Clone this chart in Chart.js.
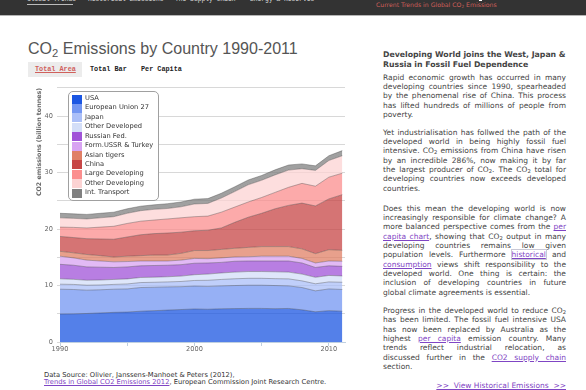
<!DOCTYPE html>
<html><head><meta charset="utf-8">
<script src="https://cdn.jsdelivr.net/npm/chart.js@4.4.1/dist/chart.umd.min.js"></script>
<style>
html,body{margin:0;padding:0;background:#fff;width:586px;height:390px;overflow:hidden;}
body{position:relative;font-family:"DejaVu Sans",sans-serif;}
.abs{position:absolute;white-space:nowrap;}
#hdr{position:absolute;left:0;top:0;width:586px;height:15px;background:#333;border-bottom:1px solid #b5b5b5;}
.nav{position:absolute;top:-4px;font:6.3px/7px "Liberation Mono",monospace;color:#ddd;white-space:nowrap;}
#navline{position:absolute;left:27px;top:4px;width:46px;height:1px;background:#bbb;}
#hdrTitle{position:absolute;color:#cf5f5a;font-family:"DejaVu Sans",sans-serif;line-height:1;white-space:nowrap;}
sub{font-size:70%;vertical-align:-0.25em;line-height:0;}
#title{position:absolute;left:28px;color:#555;font-family:"Liberation Sans",Arial,sans-serif;line-height:1;white-space:nowrap;}
#btnbg{position:absolute;left:28px;top:62px;width:54px;height:15px;background:#ececec;}
.btn{position:absolute;top:65px;font:bold 6.8px/8px "Liberation Mono",monospace;color:#222;white-space:nowrap;}
#c{position:absolute;left:0;top:80px;}
#legend{position:absolute;left:68px;top:91px;width:89px;height:106px;border:1px solid #a0a0a0;border-radius:5px;background:#fff;padding-top:2px;box-sizing:content-box;}
.li{position:relative;height:9.43px;font:6.7px/9.43px "DejaVu Sans",sans-serif;color:#333;white-space:nowrap;padding-left:16px;}
.sw{position:absolute;left:3px;top:0.5px;width:10px;height:9px;}
#src{position:absolute;left:44px;top:372px;color:#333;font-family:"DejaVu Sans",sans-serif;}
#src div{white-space:nowrap;line-height:7.1px;}
a{color:#7f45c4;text-decoration:underline;}
.side{position:absolute;left:383px;width:183px;color:#444;font:7.5px/9.33px "DejaVu Sans",sans-serif;}
.jl{white-space:nowrap;height:9.33px;}
#head{position:absolute;left:383px;top:50px;color:#444;font-weight:bold;font-family:"DejaVu Sans",sans-serif;}
#head div{white-space:nowrap;line-height:10px;}
#more{position:absolute;top:380.5px;right:20px;font:7.5px/9.33px "DejaVu Sans",sans-serif;white-space:pre;}
</style></head>
<body>
<div id="hdr"></div>
<div class="nav" style="left:27px">Global Trends</div>
<div class="nav" style="left:88px">Historical Emissions</div>
<div class="nav" style="left:175px">The Supply Chain</div>
<div class="nav" style="left:250px">Energy &amp; Reserves</div>
<div id="navline"></div>
<div class="abs" style="left:479px;top:0;width:3px;height:1px;background:#fff"></div>
<div id="hdrTitle">Current Trends in Global CO<sub>2</sub> Emissions</div>

<div id="title">CO<sub>2</sub> Emissions by Country 1990-2011</div>
<div id="btnbg"></div>
<div class="btn" style="left:35px;color:#d0605c;text-decoration:underline;">Total Area</div>
<div class="btn" style="left:90px">Total Bar</div>
<div class="btn" style="left:141px">Per Capita</div>

<canvas id="c" width="360" height="276"></canvas>
<div id="legend"></div>

<div id="src"><div id="src1">Data Source: Olivier, Janssens-Manhoet &amp; Peters (2012),</div><div id="src2"><a>Trends in Global CO2 Emissions 2012</a>, European Commission Joint Research Centre.</div></div>

<div id="head"><div id="h1">Developing World joins the West, Japan &amp;</div><div id="h2">Russia in Fossil Fuel Dependence</div></div>
<div class="side" id="p1" style="top:72.6px"></div>
<div class="side" id="p2" style="top:127.6px"></div>
<div class="side" id="p3" style="top:203.6px"></div>
<div class="side" id="p4" style="top:306px"></div>
<div id="more"><a>&gt;&gt;  View Historical Emissions  &gt;&gt;</a></div>

<script>
// ---------- DATA ----------
const years = [1990,1991,1992,1993,1994,1995,1996,1997,1998,1999,2000,2001,2002,2003,2004,2005,2006,2007,2008,2009,2010,2011];
const seriesNames = ["USA","European Union 27","Japan","Other Developed","Russian Fed.","Form.USSR & Turkey","Asian tigers","China","Large Developing","Other Developing","Int. Transport"];
const seriesColors = ["27,86,226","115,150,242","171,191,248","211,222,248","160,83,216","216,163,242","224,128,102","199,70,70","251,142,142","252,211,211","128,128,128"];
const usa             = [4.95,4.98,5.05,5.15,5.25,5.30,5.45,5.55,5.65,5.75,5.85,5.80,5.88,5.92,5.95,5.95,5.90,5.94,5.70,5.35,5.55,5.45];
const eu27            = [4.40,4.32,4.13,4.10,4.10,4.10,4.20,4.15,4.11,4.05,4.05,4.05,4.06,4.08,4.11,4.11,4.10,4.00,3.95,3.71,3.85,3.85];
const japan           = [0.89,0.90,0.88,0.85,0.85,0.88,0.88,0.88,0.88,0.92,1.00,1.08,1.14,1.20,1.22,1.22,1.22,1.24,1.18,1.25,1.24,1.28];
const otherDeveloped  = [0.96,0.90,0.88,0.88,0.88,0.90,0.90,0.90,0.92,0.95,1.02,1.10,1.15,1.18,1.20,1.20,1.22,1.20,1.20,1.15,1.15,1.12];
const russia          = [2.56,2.50,2.36,2.27,2.12,2.12,2.07,2.07,2.04,2.03,2.03,1.97,1.87,1.92,1.87,1.87,1.91,1.97,1.97,1.74,1.71,1.70];
const formUSSR        = [1.44,1.30,1.20,1.10,1.00,0.95,0.85,0.80,0.75,0.80,0.85,0.76,0.80,0.76,0.75,0.85,0.85,0.85,0.80,0.80,0.85,0.90];
const asianTigers     = [0.86,0.90,1.00,0.95,0.86,0.95,0.95,1.05,1.05,1.20,1.40,1.44,1.50,1.54,1.66,1.70,1.70,1.70,1.70,1.65,2.00,1.94];
const china           = [2.64,2.70,2.80,2.95,3.14,3.40,3.70,3.80,3.90,3.75,3.50,3.60,3.80,4.60,5.34,5.90,6.70,7.30,8.10,8.45,9.00,9.86];
const largeDeveloping = [1.65,1.80,1.90,2.10,2.30,2.40,2.40,2.40,2.50,2.55,2.50,2.50,2.80,2.70,2.70,2.80,2.90,3.20,3.50,3.50,3.85,3.80];
const otherDeveloping = [1.65,1.60,1.60,1.65,1.70,1.80,1.86,1.90,1.85,1.95,2.25,2.25,2.50,2.75,3.05,3.05,3.10,3.05,2.60,2.80,2.95,3.10];
const intTransport    = [0.80,0.80,0.80,0.80,0.80,0.80,0.80,0.80,0.85,0.85,0.85,0.85,0.85,0.85,0.85,0.85,0.90,0.90,0.85,0.80,0.85,0.90];
const seriesValues = [usa,eu27,japan,otherDeveloped,russia,formUSSR,asianTigers,china,largeDeveloping,otherDeveloping,intTransport];
const xTickValues = [1990,1995,2000,2005,2010];
const yAxisTitle = "CO2 emissions (billion tonnes)";

// ---------- CHART ----------
const datasets = seriesValues.map((vals,i)=>({
  label: seriesNames[i],
  data: years.map((yr,j)=>({x:yr,y:vals[j]})),
  backgroundColor: 'rgba('+seriesColors[i]+',0.75)',
  borderColor: 'rgba(60,60,60,0.45)',
  borderWidth: 0.8,
  fill: i===0 ? 'origin' : '-1',
  pointRadius: 0,
  tension: 0
}));
const tickFont = {family:'DejaVu Sans', size:6.6};
new Chart(document.getElementById('c'), {
  type:'line',
  data:{datasets},
  options:{
    responsive:false, animation:false, devicePixelRatio:1,
    layout:{padding:{left:36,right:15,top:7,bottom:0}},
    plugins:{legend:{display:false}, tooltip:{enabled:false}},
    scales:{
      x:{type:'linear', min:1990, max:2011.2,
         afterBuildTicks:s=>{s.ticks = xTickValues.map(v=>({value:v}));},
         ticks:{callback:v=> v%10===0 ? String(v) : '', font:tickFont, color:'#666', maxRotation:0, autoSkip:false, padding:-1},
         grid:{drawOnChartArea:false, color:'#C0D0E0', tickLength:4},
         border:{color:'#C0D0E0'},
         afterFit:s=>{s.height=14;}},
      y:{stacked:true, min:0, max:45,
         ticks:{stepSize:5, callback:v=> v%10===0 ? String(v) : '', font:tickFont, color:'#666', padding:4},
         grid:{color:'#d8d8d8', tickLength:3},
         border:{display:false},
         title:{display:true, text:yAxisTitle, align:'end', font:{family:'DejaVu Sans', size:6.3, weight:'bold'}, color:'#666', padding:0},
         afterFit:s=>{s.width=24;}}
    }
  }
});

// ---------- LEGEND ----------
const lg = document.getElementById('legend');
seriesNames.forEach((n,i)=>{
  const d=document.createElement('div'); d.className='li';
  const sw=document.createElement('span'); sw.className='sw'; sw.style.background='rgb('+seriesColors[i]+')';
  d.appendChild(sw); d.appendChild(document.createTextNode(n)); lg.appendChild(d);
});

// ---------- TEXT LAYOUT ----------
function fit(el,w){ el.style.fontSize='10px'; el.style.display='inline-block'; const r=el.getBoundingClientRect().width; const fs=10*w/r; el.style.fontSize=fs+'px'; return fs; }
const t=document.getElementById('title'); const tfs=fit(t,270); t.style.top=(48.5-0.5*tfs)+'px';
const ht=document.getElementById('hdrTitle'); const hfs=fit(ht,121); ht.style.left='376px'; ht.style.top=(5.5-0.55*hfs)+'px';
const hd=document.getElementById('head'); const h1=document.getElementById('h1'); const hs=fit(h1,183); h1.style.display='block'; hd.style.fontSize=hs+'px'; h1.style.fontSize=hs+'px';
const s1=document.getElementById('src1'); const sfs=fit(s1,191); s1.style.display='block'; document.getElementById('src').style.fontSize=sfs+'px'; s1.style.fontSize=sfs+'px';

const C='CO<sub>2</sub>';
const paras = {
 p1:["Rapid economic growth has occurred in many","developing countries since 1990, spearheaded","by the phenomenal rise of China. This process","has lifted hundreds of millions of people from","poverty."],
 p2:["Yet industrialisation has follwed the path of the","developed world in being highly fossil fuel","intensive. "+C+" emissions from China have risen","by an incredible 286%, now making it by far","the largest producer of "+C+". The "+C+" total for","developing countries now exceeds developed","countries."],
 p3:["Does this mean the developing world is now","increasingly responsible for climate change? A","more balanced perspective comes from the <a>per</a>","<a>capita chart</a>, showing that "+C+" output in many","developing countries remains low given","population levels. Furthermore <a style=\"outline:1px solid #c9c9d6\">historical</a> and","<a>consumption</a> views shift responsibility to the","developed world. One thing is certain: the","inclusion of developing countries in future","global climate agreements is essential."],
 p4:["Progress in the developed world to reduce "+C,"has been limited. The fossil fuel intensive USA","has now been replaced by Australia as the","highest <a>per capita</a> emission country. Many","trends reflect industrial relocation, as","discussed further in the <a>CO2 supply chain</a>","section."]
};
Object.keys(paras).forEach(id=>{
  const box=document.getElementById(id);
  paras[id].forEach((html,k,arr)=>{
    const d=document.createElement('div'); d.className='jl';
    const sp=document.createElement('span'); sp.innerHTML=html; d.appendChild(sp); box.appendChild(d);
    if(k<arr.length-1){
      const w=sp.getBoundingClientRect().width; const n=(sp.textContent.match(/ /g)||[]).length;
      if(n>0) sp.style.wordSpacing=((183-w)/n)+'px';
    }
  });
});
</script>
</body></html>
